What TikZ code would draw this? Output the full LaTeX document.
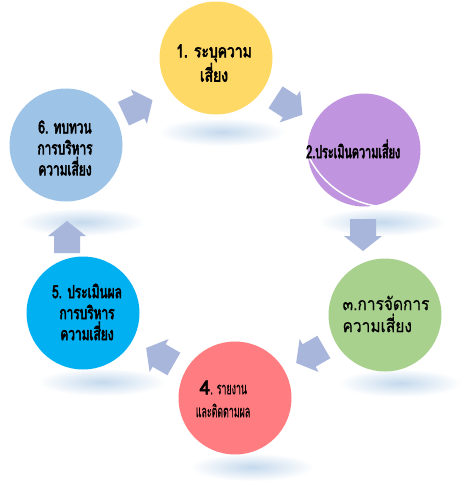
\documentclass[tikz,border=0pt]{standalone}
\usepackage{fontspec}
\newfontfamily\thaiA[Script=Thai, FakeBold=3, FakeStretch=0.77]{Loma}
\newfontfamily\thaiB[Script=Thai, FakeBold=3, FakeStretch=0.6]{Loma}
\newfontfamily\thaiC[Script=Thai, FakeBold=0.6, FakeStretch=0.86]{Loma}
\newfontfamily\thaiD[Script=Thai, FakeBold=0.3, FakeStretch=0.52]{Loma}
\newfontfamily\thaiE[Script=Thai, FakeBold=3, FakeStretch=0.66]{Loma}
\newfontfamily\thaiF[Script=Thai, FakeBold=3]{Loma}
\definecolor{cyel}{HTML}{FFD966}
\definecolor{cpur}{HTML}{C094DE}
\definecolor{cgrn}{HTML}{A9D18E}
\definecolor{cred}{HTML}{FF7C80}
\definecolor{ccya}{HTML}{00B0F0}
\definecolor{cblu}{HTML}{9DC3E6}
\definecolor{carrow}{HTML}{A9B6DC}
\definecolor{cshadow}{HTML}{C4D9ED}
\tikzset{
  barrow/.pic={\fill[carrow] (-16,-13) -- (1,-13) -- (1,-19) -- (16,0) -- (1,19) -- (1,13) -- (-16,13) -- cycle;},
  stage/.style={circle, minimum size=113pt, inner sep=0pt},
  lbl/.style={align=center, text=black, inner sep=0pt},
  shadowe/.style={inner color=cshadow, outer color=white},
}
\begin{document}
\begin{tikzpicture}[x=1pt,y=-1pt]
\useasboundingbox[fill=white] (0,0) rectangle (462,483);
% shadows
\shade[shadowe] (222,132) ellipse (64 and 14);
\shade[shadowe] (382,222) ellipse (64 and 14);
\shade[shadowe] (400,383) ellipse (62 and 14);
\shade[shadowe] (252,467) ellipse (62 and 14);
\shade[shadowe] (102,382) ellipse (64 and 14);
\shade[shadowe] (82,222) ellipse (64 and 14);
% stages
\node[stage, fill=cyel] (s1) at (216,58) {};
\node[stage, fill=cpur] (s2) at (364,150) {};
\node[stage, fill=cgrn] (s3) at (385,315) {};
\node[stage, fill=cred] (s4) at (235,398) {};
\node[stage, fill=ccya] (s5) at (83,313) {};
\node[stage, fill=cblu] (s6) at (66,145) {};
% highlight arc on purple circle
\draw[white, line width=1.5pt] (308,155) .. controls (322,185) and (350,204) .. (384,207);
% texts
\node[lbl, font=\thaiA\fontsize{18}{21}\selectfont] (t1) at (214,63) {1. ระบุความ\\เสี่ยง};
\node[lbl, font=\thaiB\fontsize{18}{21}\selectfont, anchor=west] (t2) at (306,149) {2.ประเมินความเสี่ยง};
\node[lbl, align=left, font=\thaiC\fontsize{18}{22}\selectfont] (t3) at (386,314) {๓.การจัดการ\\ความเสี่ยง};
\node[lbl, align=left, font=\thaiD\fontsize{17}{23}\selectfont] (t4) at (223,399) {\hspace*{4pt}{\thaiF\fontsize{19}{21}\selectfont 4}. รายงาน\\และติดตามผล};
\node[lbl, font=\thaiE\fontsize{18}{21}\selectfont] (t5) at (87,312) {5. ประเมินผล\\การบริหาร\\ความเสี่ยง};
\node[lbl, font=\thaiE\fontsize{18}{21}\selectfont] (t6) at (65,148) {6. ทบทวน\\การบริหาร\\ความเสี่ยง};
% arrows
\pic[rotate=25] (a61) at (138,107) {barrow};
\pic[rotate=-33] (a12) at (289,106) {barrow};
\pic[rotate=-90] (a23) at (363,235) {barrow};
\pic[rotate=210] (a34) at (310,355) {barrow};
\pic[rotate=150] (a45) at (160,356) {barrow};
\pic[rotate=90] (a56) at (67,237) {barrow};
\end{tikzpicture}
\end{document}
